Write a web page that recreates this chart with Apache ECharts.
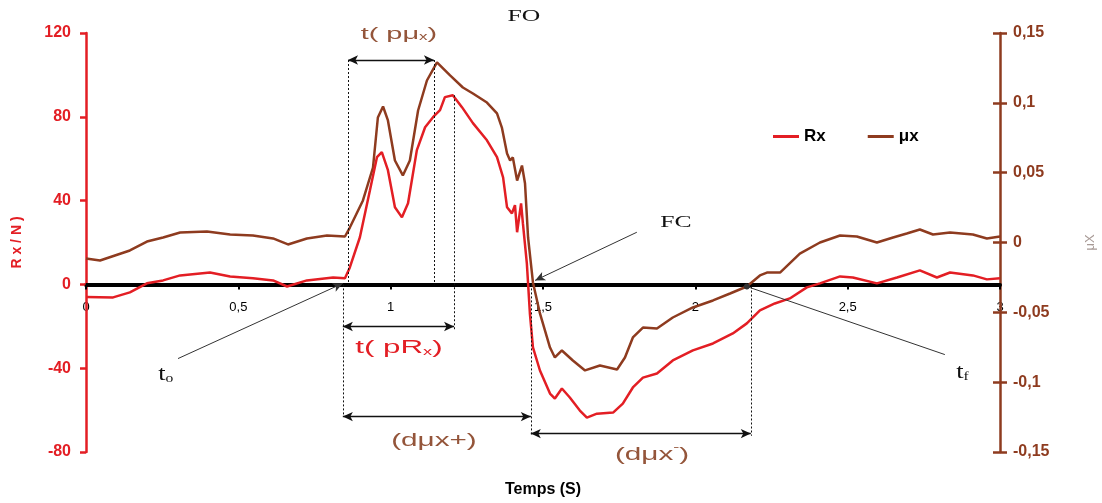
<!DOCTYPE html>
<html>
<head>
<meta charset="utf-8">
<script src="https://cdn.jsdelivr.net/npm/echarts@6/dist/echarts.min.js"></script>
<style>
html,body{margin:0;padding:0;background:#fff;}
#chart{width:1102px;height:503px;}
</style>
</head>
<body>
<div id="chart"></div>
<script>
// ---- data ----
const xTickValues = [0, 0.5, 1, 1.5, 2, 2.5, 3];
const xTickLabels = ['0', '0,5', '1', '1,5', '2', '2,5', '3'];
const rxTime = [0, 0.089, 0.144, 0.200, 0.253, 0.309, 0.407, 0.473, 0.548, 0.614,
  0.660, 0.725, 0.811, 0.850, 0.866, 0.899, 0.932, 0.955, 0.971, 0.991,
  1.014, 1.037, 1.057, 1.086, 1.113, 1.139, 1.162, 1.178, 1.204, 1.234,
  1.270, 1.316, 1.349, 1.369, 1.382, 1.398, 1.408, 1.415, 1.428, 1.434,
  1.447, 1.457, 1.467, 1.490, 1.523, 1.539, 1.562, 1.588, 1.621, 1.644,
  1.677, 1.730, 1.762, 1.795, 1.828, 1.874, 1.926, 1.992, 2.058, 2.123,
  2.169, 2.212, 2.261, 2.310, 2.366, 2.409, 2.475, 2.517, 2.596, 2.662,
  2.737, 2.793, 2.836, 2.911, 2.957, 3.0];
const rxValues = [-6, -6.2, -3.8, 0.5, 1.9, 4.3, 5.7, 3.8, 2.9, 1.9,
  -1.0, 1.9, 3.3, 2.9, 8.1, 22.5, 44.9, 60.7, 63.1, 54.5,
  36.8, 32.0, 38.7, 64.1, 75.0, 79.8, 83.2, 89.4, 90.3, 84.6,
  77.0, 68.8, 60.7, 51.1, 36.8, 33.9, 37.8, 24.9, 38.7, 29.2,
  10.0, -13.9, -30.1, -41.1, -52.1, -54.5, -49.7, -54.0, -60.2, -63.6,
  -61.7, -61.2, -56.9, -49.2, -44.5, -42.5, -36.3, -31.5, -28.2, -23.4,
  -18.6, -12.4, -9.1, -6.7, -1.4, 0.5, 3.8, 3.3, 0.5, 3.3,
  6.7, 3.3, 5.7, 4.3, 2.4, 2.9];
const muTime = [0, 0.046, 0.144, 0.200, 0.253, 0.309, 0.397, 0.473, 0.548, 0.614,
  0.663, 0.725, 0.791, 0.850, 0.866, 0.909, 0.942, 0.958, 0.975, 0.991,
  1.014, 1.040, 1.063, 1.090, 1.119, 1.152, 1.195, 1.237, 1.270, 1.316,
  1.349, 1.365, 1.382, 1.392, 1.401, 1.415, 1.431, 1.441, 1.451, 1.467,
  1.490, 1.523, 1.539, 1.562, 1.598, 1.638, 1.687, 1.743, 1.769, 1.795,
  1.828, 1.874, 1.926, 1.992, 2.058, 2.114, 2.169, 2.212, 2.235, 2.278,
  2.343, 2.409, 2.475, 2.530, 2.596, 2.649, 2.694, 2.737, 2.780, 2.836,
  2.911, 2.957, 3.0];
const muValues = [-0.0115, -0.0129, -0.0057, 0.0007, 0.0036, 0.0072, 0.0079, 0.0057, 0.0050, 0.0029,
  -0.0014, 0.0029, 0.0050, 0.0043, 0.0107, 0.0301, 0.0537, 0.0895, 0.0974, 0.0874,
  0.0587, 0.0480, 0.0587, 0.0945, 0.1160, 0.1289, 0.1196, 0.1110, 0.1067, 0.1002,
  0.0924, 0.0823, 0.0637, 0.0587, 0.0609, 0.0444, 0.0551, 0.0422, 0.0036, -0.0286,
  -0.0508, -0.0752, -0.0823, -0.0773, -0.0845, -0.0916, -0.0881, -0.0909, -0.0823, -0.0680,
  -0.0609, -0.0616, -0.0537, -0.0465, -0.0415, -0.0365, -0.0315, -0.0236, -0.0215, -0.0215,
  -0.0079, 0.0000, 0.0050, 0.0043, 0.0000, 0.0036, 0.0064, 0.0093, 0.0057, 0.0072,
  0.0057, 0.0029, 0.0043];

// annotation anchors (time, Rx-axis value)
const tZero = 0.843, tZeroTop = 0.860, tFO = 1.142, tPeakRx = 1.208, tFC = 1.460, tF = 2.182;
const vArrowPmu = 107.1, vArrowPRx = -20.1, vArrowDplus = -63.1, vArrowDminus = -71.2, vPeakRx = 90.3;

const RED = '#e31e24', BROWN = '#8e3b1f', TXTBROWN = '#94553a';

const chart = echarts.init(document.getElementById('chart'));
const rxData = rxTime.map((t, i) => [t, rxValues[i]]);
const muData = muTime.map((t, i) => [t, muValues[i]]);

const dotted = {color: '#111', width: 1, type: [2, 2]};
const thin = {color: '#333', width: 1, type: 'solid'};
const arrowPt = (c) => ({coord: c, symbol: 'arrow', symbolSize: [7, 10]});
const noPt = (c) => ({coord: c, symbol: 'none'});

const markLines = [
  [noPt([tZeroTop, vArrowPmu]), noPt([tZeroTop, 0]), dotted],
  [noPt([tZero, 0]), noPt([tZero, vArrowDplus]), dotted],
  [noPt([tFO, vArrowPmu]), noPt([tFO, 0]), dotted],
  [noPt([tPeakRx, vPeakRx]), noPt([tPeakRx, vArrowPRx - 1.5]), dotted],
  [noPt([tFC, 0]), noPt([tFC, vArrowDminus - 1]), dotted],
  [noPt([tF, -1]), noPt([tF, vArrowDminus - 1]), dotted],
  [arrowPt([tZeroTop, vArrowPmu]), arrowPt([tFO, vArrowPmu]), {color: '#111', width: 1.3, type: 'solid'}],
  [arrowPt([tZero, vArrowPRx]), arrowPt([tPeakRx, vArrowPRx]), {color: '#111', width: 1.3, type: 'solid'}],
  [arrowPt([tZero, vArrowDplus]), arrowPt([tFC, vArrowDplus]), {color: '#111', width: 1.3, type: 'solid'}],
  [arrowPt([tFC, vArrowDminus]), arrowPt([tF, vArrowDminus]), {color: '#111', width: 1.3, type: 'solid'}],
  [noPt([1.309, 122.8]), arrowPt([1.152, 107.1]), thin],
  [noPt([1.808, 24.9]), arrowPt([1.474, 1.9]), thin],
  [noPt([0.302, -35.4]), arrowPt([tZero, 0.5]), thin],
  [{coord: [2.169, -1], symbol: 'circle', symbolSize: 6}, noPt([2.819, -33.5]), thin]
].map(([a, b, ls]) => [Object.assign({lineStyle: ls}, a), b]);

const rFmt = v => (Math.round(v * 100) / 100).toString().replace('.', ',');

chart.setOption({
  animation: false,
  backgroundColor: '#fff',
  grid: {left: 86, right: 102, top: 33, bottom: 51, containLabel: false, outerBoundsMode: 'none'},
  legend: {
    data: ['Rx', 'μx'], left: 768, top: 123, icon: 'rect', itemWidth: 26, itemHeight: 3, itemGap: 42,
    textStyle: {fontSize: 17, fontWeight: 'bold', color: '#000', fontFamily: 'Liberation Sans'}
  },
  xAxis: {
    type: 'value', min: 0, max: 3, interval: 0.5,
    axisLine: {onZero: true, onZeroAxisIndex: 0, lineStyle: {color: '#000', width: 4}},
    axisTick: {show: true, length: 5, lineStyle: {color: '#000', width: 2}},
    axisLabel: {show: false},
    splitLine: {show: false}
  },
  yAxis: [{
    type: 'value', min: -80, max: 120, interval: 40, position: 'left',
    axisLine: {show: true, onZero: false, lineStyle: {color: RED, width: 2.5}},
    axisTick: {show: true, length: 6, lineStyle: {color: RED, width: 2.5}},
    axisLabel: {color: RED, fontSize: 16, fontWeight: 'bold', margin: 15, fontFamily: 'Liberation Sans'},
    splitLine: {show: false},
    name: 'R x / N )', nameLocation: 'middle', nameRotate: 90, nameGap: 62,
    nameTextStyle: {color: RED, fontSize: 14, fontWeight: 'bold', fontFamily: 'Liberation Sans'}
  }, {
    type: 'value', min: -0.15, max: 0.15, interval: 0.05, position: 'right',
    axisLine: {show: true, onZero: false, lineStyle: {color: BROWN, width: 2.5}},
    axisTick: {show: true, length: 7, lineStyle: {color: BROWN, width: 2.5}},
    axisLabel: {color: BROWN, fontSize: 16, fontWeight: 'bold', margin: 13, formatter: rFmt, fontFamily: 'Liberation Sans'},
    splitLine: {show: false},
    name: 'μX', nameLocation: 'middle', nameRotate: 90, nameGap: 84,
    nameTextStyle: {color: '#a89a96', fontSize: 13, fontFamily: 'Liberation Sans'}
  }, {
    // inner half of the crossing ticks on the right axis
    type: 'value', min: -0.15, max: 0.15, interval: 0.05, position: 'right',
    axisLine: {show: false, onZero: false},
    axisTick: {show: true, inside: true, length: 7, lineStyle: {color: BROWN, width: 2.5}},
    axisLabel: {show: false}, splitLine: {show: false}
  }],
  series: [{
    name: 'μx', type: 'line', yAxisIndex: 1, data: muData, symbol: 'none',
    lineStyle: {color: BROWN, width: 2.5}, itemStyle: {color: BROWN}
  }, {
    name: 'Rx', type: 'line', yAxisIndex: 0, data: rxData, symbol: 'none',
    lineStyle: {color: RED, width: 2.5}, itemStyle: {color: RED},
    markLine: {silent: true, animation: false, label: {show: false}, symbol: ['none', 'none'], data: markLines}
  }]
});

const px = (t, v) => chart.convertToPixel({xAxisIndex: 0, yAxisIndex: 0}, [t, v]);
const txt = (t, v, text, rich, fill, font, sx) => {
  const p = px(t, v);
  return {type: 'text', x: p[0], y: p[1], silent: true, scaleX: sx || 1,
    style: {text: text, rich: rich, fill: fill, font: font, align: 'center', verticalAlign: 'middle',
      textAlign: 'center', textVerticalAlign: 'middle'}};
};
const sansRich = (color, size) => ({
  n: {fontSize: size, fill: color, color: color, fontFamily: 'Liberation Sans', verticalAlign: 'bottom', lineHeight: size + 4},
  s: {fontSize: Math.round(size * 0.6), fill: color, color: color, fontFamily: 'Liberation Sans', verticalAlign: 'bottom', lineHeight: size + 4},
  u: {fontSize: Math.round(size * 0.6), fill: color, color: color, fontFamily: 'Liberation Sans', verticalAlign: 'top', lineHeight: size + 4}
});
const serifRich = {
  n: {fontSize: 22, fill: '#111', color: '#111', fontFamily: 'Liberation Serif', verticalAlign: 'bottom', lineHeight: 28},
  s: {fontSize: 13, fill: '#111', color: '#111', fontFamily: 'Liberation Serif', verticalAlign: 'bottom', lineHeight: 24}
};
const mid = px(1.5, -80);

const xLabelTexts = xTickValues.map((v, i) => {
  const p = px(v, 0);
  return {type: 'text', x: p[0], y: p[1] + 23, silent: true,
    style: {text: xTickLabels[i], fill: '#000', font: '13px Liberation Sans', align: 'center', verticalAlign: 'middle',
      textAlign: 'center', textVerticalAlign: 'middle'}};
});

chart.setOption({
  graphic: xLabelTexts.concat([
    txt(1.027, 120.5, '{n|t( pμ}{s|x}{n|)}', sansRich(TXTBROWN, 17), TXTBROWN, '17px Liberation Sans', 1.7),
    txt(1.027, -29.4, '{n|t( pR}{s|x}{n|)}', sansRich(RED, 19), RED, '19px Liberation Sans', 1.65),
    txt(1.142, -73.6, '{n|(dμx+)}', sansRich(TXTBROWN, 18), TXTBROWN, '18px Liberation Sans', 1.65),
    txt(1.858, -80.3, '{n|(dμx}{u|-}{n|)}', sansRich(TXTBROWN, 18), TXTBROWN, '18px Liberation Sans', 1.65),
    txt(1.437, 127.6, 'FO', null, '#111', '16px Liberation Serif', 1.6),
    txt(1.936, 29.2, 'FC', null, '#111', '16px Liberation Serif', 1.6),
    txt(0.262, -41.5, '{n|t}{s|o}', serifRich, '#111', '22px Liberation Serif', 1.2),
    txt(2.877, -40.5, '{n|t}{s|f}', serifRich, '#111', '22px Liberation Serif', 1.2),
    {type: 'text', x: mid[0], y: mid[1] + 38, silent: true,
      style: {text: 'Temps (S)', fill: '#000', font: 'bold 16px Liberation Sans', align: 'center', verticalAlign: 'middle',
        textAlign: 'center', textVerticalAlign: 'middle'}}
  ])
});
</script>
</body>
</html>
